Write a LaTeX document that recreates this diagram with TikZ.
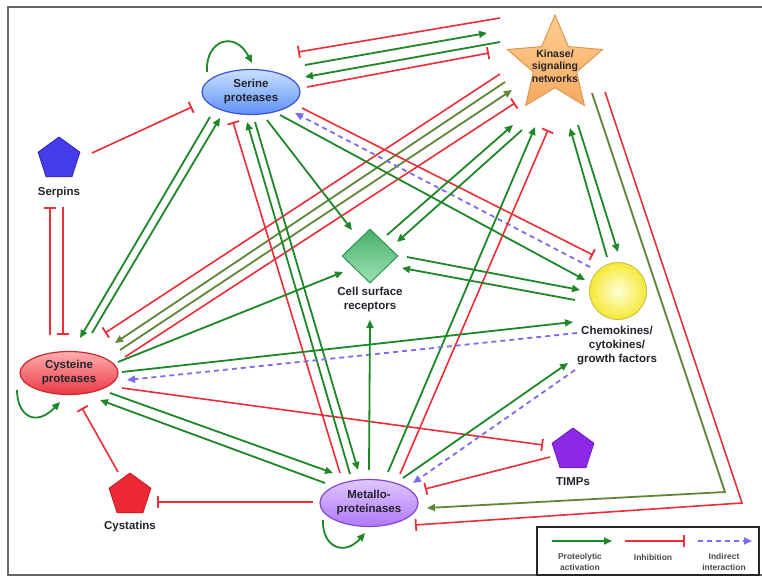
\documentclass[tikz,border=0pt]{standalone}
\usepackage{fontspec}
\setmainfont{Liberation Sans}
\usetikzlibrary{arrows.meta,shapes.geometric,calc}
\definecolor{gr}{RGB}{30,135,40}
\definecolor{ol}{RGB}{95,135,55}
\definecolor{rd}{RGB}{236,45,55}
\definecolor{bl}{RGB}{120,110,240}
\definecolor{txt}{RGB}{35,35,45}
\begin{document}
\begin{tikzpicture}[x=1pt,y=-1pt,
  act/.style={draw=gr, line width=1.8pt, -{Triangle[length=8pt,width=7pt]}},
  olact/.style={draw=ol, line width=1.8pt, -{Triangle[length=8pt,width=7pt]}},
  inh/.style={draw=rd, line width=1.6pt, -{Bar[width=12pt,line width=1.8pt]}},
  ind/.style={draw=bl, line width=1.8pt, dash pattern=on 5pt off 4pt, -{Triangle[length=8pt,width=7pt]}},
  lab/.style={font=\fontsize{11.5}{14}\selectfont\bfseries, text=txt, align=center, inner sep=0},
  ell/.style={ellipse, inner sep=0, line width=1.2pt, lab},
  pent/.style={regular polygon, regular polygon sides=5, minimum size=44pt, inner sep=0, line width=0.8pt},
  leglab/.style={lab, font=\fontsize{8.5}{10.5}\selectfont\bfseries, text=black!70},
]
\useasboundingbox (0,0) rectangle (762,580);
\fill[white] (0,0) rectangle (762,580);
\draw[black!60, line width=2pt] (762,7) -- (8,7) -- (8,575) -- (762,575);

% nodes
\node[ell, minimum width=98pt, minimum height=45pt, draw={rgb,255:red,60;green,80;blue,220},
  top color={rgb,255:red,200;green,225;blue,255}, bottom color={rgb,255:red,95;green,145;blue,245}] (ser) at (251,92) {Serine\\proteases};
\node[ell, minimum width=98pt, minimum height=43pt, draw={rgb,255:red,205;green,40;blue,45},
  top color={rgb,255:red,255;green,175;blue,175}, bottom color={rgb,255:red,235;green,55;blue,65}] (cys) at (69,373) {Cysteine\\proteases};
\node[ell, minimum width=98pt, minimum height=47pt, draw={rgb,255:red,135;green,70;blue,210},
  top color={rgb,255:red,222;green,200;blue,255}, bottom color={rgb,255:red,175;green,120;blue,245}] (met) at (369,503) {Metallo-\\proteinases};
\node[star, star points=5, star point ratio=2.2, minimum size=100pt, inner sep=0, line width=1pt,
  draw={rgb,255:red,225;green,150;blue,80},
  top color={rgb,255:red,255;green,205;blue,145}, bottom color={rgb,255:red,246;green,170;blue,95}] (kin) at (555,65) {};
\node[lab, font=\fontsize{10.5}{12.5}\selectfont\bfseries] (kinl) at (555,66) {Kinase/\\signaling\\networks};
\node[pent, fill={rgb,255:red,70;green,60;blue,235}, draw={rgb,255:red,50;green,40;blue,170}] (serp) at (59,159) {};
\node[lab] (serpl) at (59,193) {Serpins};
\node[pent, fill={rgb,255:red,236;green,40;blue,50}, draw={rgb,255:red,190;green,30;blue,35}] (cyst) at (130,495) {};
\node[lab] (cystl) at (130,527) {Cystatins};
\node[pent, fill={rgb,255:red,140;green,40;blue,230}, draw={rgb,255:red,105;green,30;blue,180}] (timp) at (573,450) {};
\node[lab] (timpl) at (573,482) {TIMPs};
\node[diamond, minimum width=56pt, minimum height=54pt, inner sep=0, line width=1pt,
  draw={rgb,255:red,40;green,150;blue,80},
  top color={rgb,255:red,70;green,175;blue,105}, bottom color={rgb,255:red,160;green,225;blue,180}] (csr) at (370,256) {};
\node[lab] (csrl) at (370,300) {Cell surface\\receptors};
\node[circle, minimum size=57pt, inner sep=0, line width=1pt,
  draw={rgb,255:red,205;green,195;blue,70},
  inner color={rgb,255:red,255;green,255;blue,215}, outer color={rgb,255:red,245;green,232;blue,55}] (chem) at (618,291) {};
\node[lab] (cheml) at (617,346) {Chemokines/\\cytokines/\\growth factors};

% self loops
\draw[act] ($(ser)+(-44,-20)$) .. controls (205,40) and (235,30) .. ($(ser)+(1,-29)$);
\draw[act] ($(cys)+(-52,17)$) .. controls (17,415) and (35,428) .. ($(cys)+(-9,29)$);
\draw[act] ($(met)+(-46,17)$) .. controls (322,548) and (345,556) .. ($(met)+(-4,30)$);

% serpins
\draw[inh] ($(serp)+(33,-6)$) -- ($(ser)+(-59,15)$);
\draw[inh] ($(cys)+(-19,-38)$) -- ($(serp)+(-9,48)$);
\draw[inh] ($(serp)+(4,48)$) -- ($(cys)+(-6,-38)$);

% serine <-> cysteine
\draw[act] ($(ser)+(-41,25)$) -- ($(cys)+(11,-35)$);
\draw[act] ($(cys)+(23,-40)$) -- ($(ser)+(-31,26)$);

% cysteine <-> metallo
\draw[act] ($(cys)+(41,20)$) -- ($(met)+(-36,-30)$);
\draw[act] ($(met)+(-44,-20)$) -- ($(cys)+(31,27)$);

% cystatins, TIMPs
\draw[inh] ($(met)+(-56,-1)$) -- ($(cyst)+(27,7)$);
\draw[inh] ($(cyst)+(-12,-23)$) -- ($(cys)+(13,35)$);
\draw[inh] ($(cys)+(53,15)$) -- ($(timp)+(-30,-5)$);
\draw[inh] ($(timp)+(-23,7)$) -- ($(met)+(56,-14)$);

% kinase -> metallo (long way round)
\coordinate (c1) at (725,492);
\coordinate (c2) at (742,503);
\draw[olact] ($(kin)+(37,28)$) -- (c1) -- ($(met)+(58,5)$);
\draw[inh] ($(kin)+(50,27)$) -- (c2) -- ($(met)+(46,22)$);

% serine <-> kinase
\draw[inh] ($(kin)+(-55,-47)$) -- ($(ser)+(47,-40)$);
\draw[act] ($(ser)+(54,-27)$) -- ($(kin)+(-68,-32)$);
\draw[act] ($(kin)+(-55,-23)$) -- ($(ser)+(54,-15)$);
\draw[inh] ($(ser)+(56,-5)$) -- ($(kin)+(-66,-12)$);

% cysteine <-> kinase
\draw[inh] ($(kin)+(-55,9)$) -- ($(cys)+(36,-40)$);
\draw[olact] ($(kin)+(-50,17)$) -- ($(cys)+(46,-30)$);
\draw[olact] ($(cys)+(51,-23)$) -- ($(kin)+(-43,25)$);
\draw[inh] ($(cys)+(56,-16)$) -- ($(kin)+(-40,38)$);

% serine <-> metallo
\draw[inh] ($(met)+(-29,-30)$) -- ($(ser)+(-18,30)$);
\draw[act] ($(met)+(-19,-29)$) -- ($(ser)+(-4,30)$);
\draw[act] ($(ser)+(4,30)$) -- ($(met)+(-11,-33)$);

% serine -> receptors / chemokines
\draw[act] ($(ser)+(16,28)$) -- ($(csr)+(-18,-26)$);
\draw[act] ($(ser)+(29,23)$) -- ($(chem)+(-33,-11)$);
\draw[inh] ($(ser)+(51,16)$) -- ($(chem)+(-25,-36)$);
\draw[ind] ($(chem)+(-28,-24)$) -- ($(ser)+(44,21)$);

% receptors <-> kinase
\draw[act] ($(csr)+(17,-21)$) -- ($(kin)+(-42,60)$);
\draw[act] ($(kin)+(-33,65)$) -- ($(csr)+(27,-14)$);

% metallo -> kinase
\draw[act] ($(met)+(19,-31)$) -- ($(kin)+(-20,62)$);
\draw[inh] ($(met)+(31,-29)$) -- ($(kin)+(-7,65)$);

% kinase <-> chemokines
\draw[act] ($(chem)+(-11,-34)$) -- ($(kin)+(15,63)$);
\draw[act] ($(kin)+(23,60)$) -- ($(chem)+(0,-39)$);

% receptors <-> chemokines
\draw[act] ($(csr)+(37,1)$) -- ($(chem)+(-38,-1)$);
\draw[act] ($(chem)+(-43,9)$) -- ($(csr)+(32,12)$);

% cysteine -> receptors / chemokines
\draw[act] ($(cys)+(49,-11)$) -- ($(csr)+(-27,16)$);
\draw[act] ($(cys)+(53,-1)$) -- ($(chem)+(-45,31)$);
\draw[ind] ($(chem)+(-41,42)$) -- ($(cys)+(58,7)$);

% metallo -> chemokines / receptors
\draw[act] ($(met)+(34,-25)$) -- ($(chem)+(-50,72)$);
\draw[ind] ($(chem)+(-43,79)$) -- ($(met)+(44,-20)$);
\draw[act] ($(met)+(0,-33)$) -- ($(csr)+(0,64)$);

% legend
\node[draw=black!85, line width=1.2pt, minimum width=222pt, minimum height=48pt, inner sep=0] (leg) at (648,551) {};
\coordinate (la1) at (552,541); \coordinate (la2) at (612,541);
\coordinate (lb1) at (625,541); \coordinate (lb2) at (685,541);
\coordinate (lc1) at (698,541); \coordinate (lc2) at (752,541);
\draw[act] (la1) -- (la2);
\draw[inh] (lb1) -- (lb2);
\draw[ind] (lc1) -- (lc2);
\node[leglab] (lt1) at (580,562) {Proteolytic\\activation};
\node[leglab] (lt2) at (653,557) {Inhibition};
\node[leglab] (lt3) at (724,562) {Indirect\\interaction};
\end{tikzpicture}
\end{document}
